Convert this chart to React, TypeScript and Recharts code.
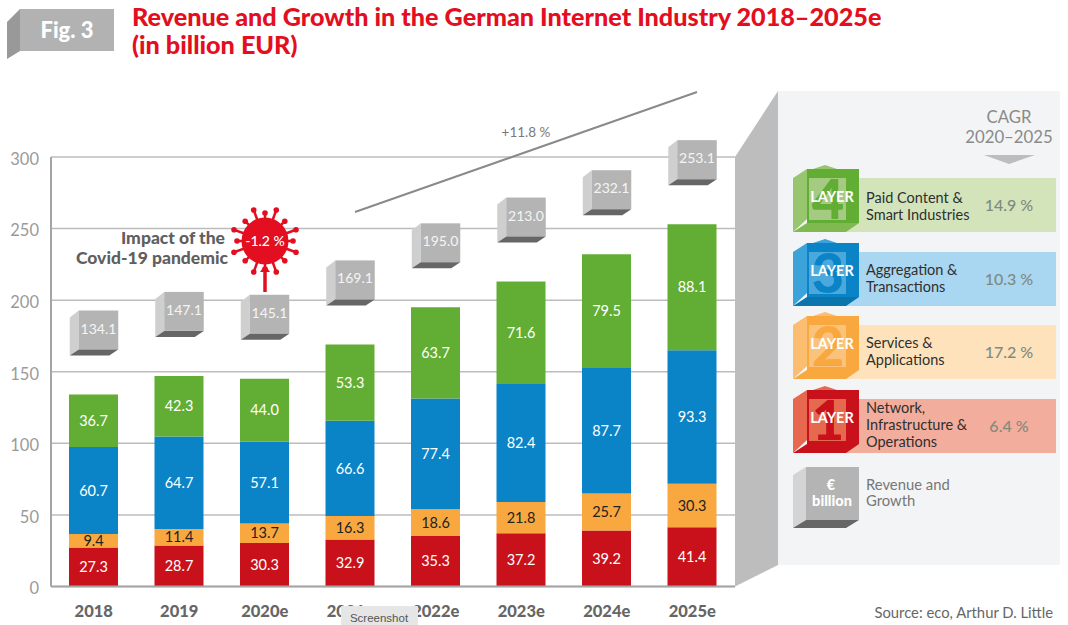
import React from "react";
import { ComposedChart, Bar, Line, XAxis, YAxis, CartesianGrid, LabelList } from "recharts";

const years = ["2018", "2019", "2020e", "2021e", "2022e", "2023e", "2024e", "2025e"];
const layer1 = [27.3, 28.7, 30.3, 32.9, 35.3, 37.2, 39.2, 41.4];
const layer2 = [9.4, 11.4, 13.7, 16.3, 18.6, 21.8, 25.7, 30.3];
const layer3 = [60.7, 64.7, 57.1, 66.6, 77.4, 82.4, 87.7, 93.3];
const layer4 = [36.7, 42.3, 44.0, 53.3, 63.7, 71.6, 79.5, 88.1];
const totals = [134.1, 147.1, 145.1, 169.1, 195.0, 213.0, 232.1, 253.1];
const yTicks = [0, 50, 100, 150, 200, 250, 300];

const legendRows = [
  { n: "4", top: 169, bar: "#d3e4bb", front: "#62ad33", side: "#97c66f", under: "#7fb94f", inner: "#a5cb83", lines: ["Paid Content &", "Smart Industries"], pct: "14.9 %", pctX: 1009, textY: 203 },
  { n: "3", top: 243, bar: "#a9d6f1", front: "#0a84c6", side: "#3ba3da", under: "#0a74ad", inner: "#4ba8dc", lines: ["Aggregation &", "Transactions"], pct: "10.3 %", pctX: 1009, textY: 275 },
  { n: "2", top: 316, bar: "#fde2bc", front: "#f9a83f", side: "#fbbd70", under: "#f9a83f", inner: "#fbc27c", lines: ["Services &", "Applications"], pct: "17.2 %", pctX: 1009, textY: 348 },
  { n: "1", top: 390, bar: "#f3ad9c", front: "#c8111a", side: "#e7684f", under: "#c8111a", inner: "#e5694f", lines: ["Network,", "Infrastructure &", "Operations"], pct: "6.4 %", pctX: 1009, textY: 413 },
];

const font = "Lato, 'Open Sans', sans-serif";
const rows = years.map((year, i) => ({
  year,
  l1: layer1[i],
  l2: layer2[i],
  l3: layer3[i],
  l4: layer4[i],
  total: totals[i],
}));

const fmt = (v: any) => Number(v).toFixed(1);

function TotalBox(props: any) {
  const { cx, cy, payload } = props;
  if (cx == null || cy == null) return null;
  const l = cx - 24;
  const f = cx - 15;
  const r = cx + 24.5;
  const bottom = cy - 39;
  const top = bottom - 45;
  const fb = top + 39;
  return (
    <g key={payload.year}>
      <polygon points={`${l},${top + 7} ${f},${top} ${f},${fb} ${l},${bottom}`} fill="#cfcfcf" />
      <rect x={f} y={top} width={r - f} height={fb - top} fill="#b4b4b4" />
      <polygon points={`${l},${bottom} ${r - 9},${bottom} ${r},${fb} ${f},${fb}`} fill="#666666" />
      <text x={(f + r) / 2} y={top + 23} textAnchor="middle" fontSize={14} fill="#f4f4f4" fontFamily={font}>
        {payload.total.toFixed(1)}
      </text>
    </g>
  );
}

function Cube({ row }: { row: (typeof legendRows)[number] }) {
  const t = row.top;
  const b = t + 63;
  return (
    <g>
      <rect x={840} y={t + 9} width={216} height={54} fill={row.bar} />
      <polygon points={`813,${t} 825,${t - 4} 837,${t}`} fill={row.side} />
      <polygon points={`793,${t + 9} 807,${t} 807,${t + 50} 793,${b}`} fill={row.side} />
      <rect x={807} y={t} width={52} height={54} fill={row.front} />
      <rect x={809} y={t + 9} width={37} height={42} fill={row.inner} />
      <polygon points={`793,${b} 846,${b} 859,${t + 54} 807,${t + 54}`} fill={row.under} />
      <text x={828} y={t + 50} textAnchor="middle" fontSize={56} fontWeight={900} fill={row.front} fontFamily={font}>
        {row.n}
      </text>
      <text x={832} y={t + 33} textAnchor="middle" fontSize={14.5} fontWeight={700} fill="#ffffff" fontFamily={font}>
        LAYER
      </text>
      {row.lines.map((line, i) => (
        <text key={line} x={866} y={row.textY + i * 17} fontSize={14.5} fill="#2f2f2f" fontFamily={font}>
          {line}
        </text>
      ))}
      <text x={row.pctX} y={t + 42} textAnchor="middle" fontSize={16} fontWeight={500} fill="#7f8a80" fontFamily={font}>
        {row.pct}
      </text>
    </g>
  );
}

const shortSpikes = [0, 45, 90, 135, 180, 225, 270, 315];
const longSpikes = [20, 70, 110, 160, 200, 250, 290, 340];

function Virus() {
  const cx = 265;
  const cy = 241;
  const spike = (a: number, end: number) => {
    const rad = (a * Math.PI) / 180;
    return (
      <g key={a}>
        <line x1={cx} y1={cy} x2={cx + Math.cos(rad) * end} y2={cy + Math.sin(rad) * end} stroke="#e30f21" strokeWidth={2.5} />
        <circle cx={cx + Math.cos(rad) * end} cy={cy + Math.sin(rad) * end} r={2.8} fill="#e30f21" />
      </g>
    );
  };
  return (
    <g>
      {shortSpikes.map((a) => spike(a, 28))}
      {longSpikes.map((a) => spike(a, 33))}
      <circle cx={cx} cy={cy} r={23.5} fill="#e30f21" />
      <line x1={cx} y1={270} x2={cx} y2={292} stroke="#e30f21" strokeWidth={3.5} />
      <polygon points={`${cx - 5},272 ${cx},265 ${cx + 5},272`} fill="#e30f21" />
      <text x={cx} y={cy + 5} textAnchor="middle" fontSize={14} fontWeight={500} fill="#ffffff" fontFamily={font}>
        -1.2 %
      </text>
    </g>
  );
}

function Backdrop() {
  return (
    <svg width={1068} height={625} style={{ position: "absolute", left: 0, top: 0 }}>
      <rect x={778} y={91} width={282} height={474} fill="#f3f4f5" />
      <polygon points="735,157 778,91 778,565 735,586.5" fill="#bdbdbd" />
    </svg>
  );
}

function Foreground() {
  return (
    <svg width={1068} height={625} style={{ position: "absolute", left: 0, top: 0 }}>
      <polygon points="7,22 20,9 20,51 7,59" fill="#999999" />
      <rect x={20} y={9} width={94} height={42} fill="#b2b2b2" />
      <text x={67} y={38} textAnchor="middle" fontSize={22} fontWeight={900} fill="#ffffff" fontFamily={font}>
        Fig. 3
      </text>
      <text x={132} y={26} fontSize={25.2} fontWeight={900} fill="#e30f21" fontFamily={font}>
        Revenue and Growth in the German Internet Industry 2018–2025e
      </text>
      <text x={132} y={54} fontSize={25.2} fontWeight={900} fill="#e30f21" fontFamily={font}>
        (in billion EUR)
      </text>

      <line x1={355} y1={212} x2={697} y2={92} stroke="#8a8a8a" strokeWidth={2} />
      <text x={526} y={137} textAnchor="middle" fontSize={13.5} fill="#7a7a7a" fontFamily={font}>
        +11.8 %
      </text>

      <text x={225} y={244} textAnchor="end" fontSize={17.5} fontWeight={900} fill="#5f5f5f" fontFamily={font}>
        Impact of the
      </text>
      <text x={228} y={264} textAnchor="end" fontSize={17.5} fontWeight={900} fill="#5f5f5f" fontFamily={font}>
        Covid-19 pandemic
      </text>
      <Virus />

      <text x={1009} y={123} textAnchor="middle" fontSize={16.8} fill="#8a8a8a" fontFamily={font}>
        CAGR
      </text>
      <text x={1009} y={143} textAnchor="middle" fontSize={16.8} fill="#8a8a8a" fontFamily={font}>
        2020–2025
      </text>
      <polygon points="984,155 1035,155 1009,164" fill="#bdbdbd" />

      {legendRows.map((row) => (
        <Cube key={row.n} row={row} />
      ))}

      <polygon points="793,475 806,467 806,520 793,528" fill="#d4d4d4" />
      <rect x={806} y={467} width={53} height={53} fill="#b4b4b4" />
      <polygon points="793,528 846,528 859,520 806,520" fill="#666666" />
      <text x={831} y={490} textAnchor="middle" fontSize={14.5} fontWeight={900} fill="#ffffff" fontFamily={font}>
        €
      </text>
      <text x={832} y={506} textAnchor="middle" fontSize={14.5} fontWeight={900} fill="#ffffff" fontFamily={font}>
        billion
      </text>
      <text x={866} y={490} fontSize={14.8} fill="#777777" fontFamily={font}>
        Revenue and
      </text>
      <text x={866} y={506} fontSize={14.8} fill="#777777" fontFamily={font}>
        Growth
      </text>

      <text x={1053} y={618} textAnchor="end" fontSize={14.8} fill="#666666" fontFamily={font}>
        Source: eco, Arthur D. Little
      </text>

      <rect x={341} y={606} width={77} height={19} fill="#e6e6e6" />
      <text x={379} y={622} textAnchor="middle" fontSize={11.5} fill="#555555" fontFamily="'Liberation Sans', sans-serif">
        Screenshot
      </text>
    </svg>
  );
}

export default function App() {
  return (
    <div style={{ position: "absolute", left: 0, top: 0, width: 1068, height: 625, background: "#ffffff", overflow: "hidden" }}>
      <Backdrop />
      <div style={{ position: "absolute", left: 0, top: 0 }}>
        <ComposedChart
          width={1068}
          height={625}
          data={rows}
          margin={{ top: 157, right: 333, bottom: 8.5, left: 6 }}
        >
          <CartesianGrid horizontal vertical={false} stroke="#bcbcbc" strokeWidth={1.5} />
          <XAxis
            dataKey="year"
            height={30}
            axisLine={{ stroke: "#a5a5a5", strokeWidth: 2 }}
            tickLine={false}
            tickSize={0}
            tickMargin={19}
            interval={0}
            tick={{ fontSize: 16.5, fontWeight: 900, fill: "#666666", fontFamily: font }}
          />
          <YAxis
            width={45}
            domain={[0, 300]}
            ticks={yTicks}
            axisLine={{ stroke: "#a5a5a5", strokeWidth: 2 }}
            tickLine={false}
            tickSize={0}
            tickMargin={12}
            tick={{ fontSize: 16.5, fill: "#9a9a9a", fontFamily: font, dy: 2 }}
          />
          <Bar dataKey="l1" stackId="a" fill="#c8111a" barSize={49} isAnimationActive={false}>
            <LabelList dataKey="l1" position="center" formatter={fmt} fill="#ffffff" fontSize={14.5} fontFamily={font} />
          </Bar>
          <Bar dataKey="l2" stackId="a" fill="#f9a83f" barSize={49} isAnimationActive={false}>
            <LabelList dataKey="l2" position="center" formatter={fmt} fill="#222222" fontSize={14.5} fontFamily={font} />
          </Bar>
          <Bar dataKey="l3" stackId="a" fill="#0a84c6" barSize={49} isAnimationActive={false}>
            <LabelList dataKey="l3" position="center" formatter={fmt} fill="#ffffff" fontSize={14.5} fontFamily={font} />
          </Bar>
          <Bar dataKey="l4" stackId="a" fill="#62ad33" barSize={49} isAnimationActive={false}>
            <LabelList dataKey="l4" position="center" formatter={fmt} fill="#ffffff" fontSize={14.5} fontFamily={font} />
          </Bar>
          <Line dataKey="total" stroke="none" dot={TotalBox} activeDot={false} isAnimationActive={false} />
        </ComposedChart>
      </div>
      <Foreground />
    </div>
  );
}
